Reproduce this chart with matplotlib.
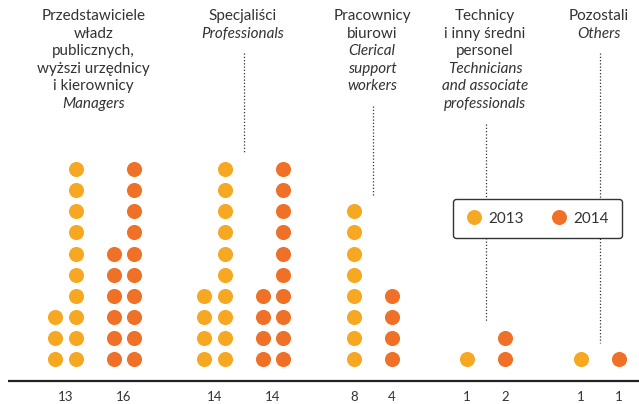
import math

import matplotlib
matplotlib.use("Agg")
import matplotlib.pyplot as plt
from matplotlib.lines import Line2D

# --- data ---------------------------------------------------------------
labels_pl = [
    ["Przedstawiciele", "władz", "publicznych,", "wyższi urzędnicy", "i kierownicy"],
    ["Specjaliści"],
    ["Pracownicy", "biurowi"],
    ["Technicy", "i inny średni", "personel"],
    ["Pozostali"],
]
labels_en = [
    ["Managers"],
    ["Professionals"],
    ["Clerical", "support", "workers"],
    ["Technicians", "and associate", "professionals"],
    ["Others"],
]
years = ["2013", "2014"]
values_2013 = [13, 14, 8, 1, 1]
values_2014 = [16, 14, 4, 2, 1]

# --- layout / style -----------------------------------------------------
colors = ["#F7A823", "#EF7128"]
text_color = "#333333"
group_x = [94.5, 243.5, 373, 486, 600]
leader = [False, True, True, True, True]
col_step = 20.5
year_gap = 38
row_step = 21.1
base_y = 359
per_col = 10
dot_size = 118
text_top = 9
line_h = 17.6
axis_y = 381

plt.rcParams["font.family"] = ["Lato", "DejaVu Sans"]

fig = plt.figure(figsize=(6.39, 4.04), dpi=100)
ax = fig.add_axes([0, 0, 1, 1])
ax.set_xlim(0, 639)
ax.set_ylim(404, 0)
ax.axis("off")

for g, cx in enumerate(group_x):
    top_dot = base_y
    for yi, vals in enumerate([values_2013, values_2014]):
        v = vals[g]
        ncols = math.ceil(v / per_col)
        counts = [v - per_col * (ncols - 1)] + [per_col] * (ncols - 1)
        if yi == 0:
            xs = [cx - year_gap / 2 - (ncols - 1 - k) * col_step for k in range(ncols)]
        else:
            xs = [cx + year_gap / 2 + k * col_step for k in range(ncols)]
        for x, n in zip(xs, counts):
            ys = [base_y - i * row_step for i in range(n)]
            ax.scatter([x] * n, ys, s=dot_size, color=colors[yi],
                       linewidths=0, zorder=3)
            top_dot = min(top_dot, ys[-1])
        ax.text(sum(xs) / len(xs), 397, str(v), ha="center", va="center",
                fontsize=9.5, color=text_color)

    # category label, one line at a time (English part in italics)
    lines = [(t, "normal") for t in labels_pl[g]] + [(t, "italic") for t in labels_en[g]]
    for i, (t, st) in enumerate(lines):
        ax.text(cx - 1, text_top + i * line_h, t, ha="center", va="top",
                fontsize=11, style=st, color=text_color)

    if leader[g]:
        y0 = text_top + len(lines) * line_h + 9
        y1 = top_dot - 16
        ax.plot([cx, cx], [y0, y1], color=text_color, lw=0.9,
                linestyle=(0, (1, 1.6)), zorder=1)

ax.plot([8, 639], [axis_y, axis_y], color="#222222", lw=1.6, solid_capstyle="butt")

handles = [Line2D([], [], marker="o", linestyle="none", markersize=10.8,
                  markerfacecolor=c, markeredgewidth=0) for c in colors]
leg = ax.legend(handles, years, ncol=2, loc="center",
                bbox_to_anchor=(537.5 / 639, 1 - 218.5 / 404),
                fontsize=11, frameon=True, fancybox=True, framealpha=1,
                edgecolor=text_color, handletextpad=0.45, columnspacing=1.8,
                borderpad=0.85, handlelength=1.0, labelcolor=text_color)
leg.get_frame().set_linewidth(1.0)
leg.set_zorder(5)

fig.savefig("out.png", dpi=100)
